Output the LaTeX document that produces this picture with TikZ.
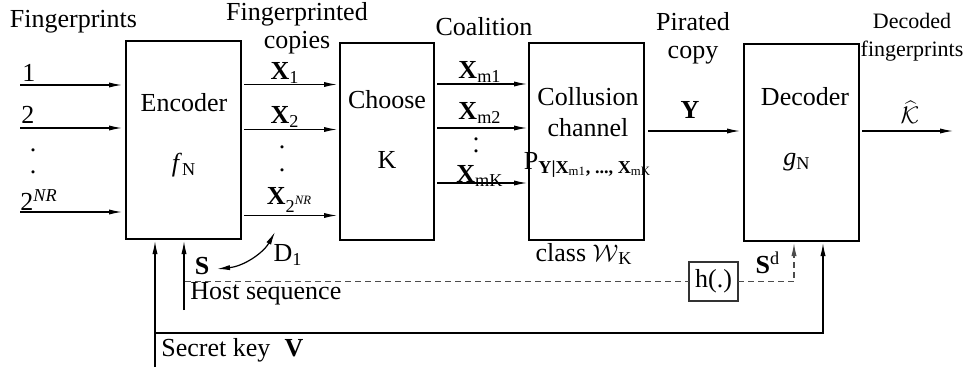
\documentclass[tikz,border=0pt]{standalone}
\usepackage{fontspec}
\setmainfont{Liberation Serif}
\usepackage{tikz}
\usetikzlibrary{arrows.meta,positioning,calc}
\tikzset{
  blk/.style={draw, rectangle, minimum width=57.5pt, minimum height=98.5pt, inner sep=0pt, outer sep=0pt, line width=0.6pt},
  lbl/.style={inner sep=0pt, font=\fontsize{13}{14}\selectfont, align=center},
  slbl/.style={inner sep=0pt, font=\fontsize{11}{14}\selectfont, align=center},
  vdot/.style={inner sep=0pt, align=center, font=\fontsize{13}{#1}\selectfont},
  arr/.style={-{Latex[length=6.5pt,width=2.6pt]}, line width=0.6pt},
  darr/.style={{Latex[length=6.5pt,width=2.6pt]}-{Latex[length=6.5pt,width=2.6pt]}, line width=0.6pt},
  gap/.style={shorten <=1.5pt, shorten >=1.5pt},
  dsh/.style={dash pattern=on 3pt off 2pt, line width=0.6pt, black!70}
}
\begin{document}
\begin{tikzpicture}[x=0.5pt,y=-0.5pt]
\useasboundingbox (0,0) rectangle (970,369);
\node[blk, minimum height=99pt] (enc) at (183.5,140) {};
\node[blk, minimum width=47pt] (cho) at (387,141.5) {};
\node[blk] (col) at (586.5,141.5) {};
\node[blk] (dec) at (801.5,142.5) {};
\node[draw, lbl, line width=0.6pt, minimum width=24.5pt, minimum height=19.5pt, outer sep=0pt, black!80] (hfn) at (713.5,281.5) {\color{black}h(.)};

\node[lbl] (fp) at (73.5,22) {Fingerprints};
\node[lbl, anchor=west] (in1) at (22,73) {1};
\node[lbl, anchor=west] (in2) at (21,115) {2};
\node[vdot=11] (ind) at (33,161) {.\\.};
\node[lbl, anchor=west] (inN) at (20,200) {2\textsuperscript{\textit{NR}}};
\node[lbl] (encl) at (184,103) {Encoder};
\node[lbl] (encf) at (184,165) {\textit{f}\textsubscript{N}};

\node[lbl] (fpc) at (297,28) {Fingerprinted\\copies};
\node[lbl] (x1) at (285,73) {\textbf{X}\textsubscript{1}};
\node[lbl] (x2) at (285,117) {\textbf{X}\textsubscript{2}};
\node[vdot=11.5] (xd) at (282,158.5) {.\\.};
\node[lbl] (xN) at (290,200) {\textbf{X}\textsubscript{2\textsuperscript{\textit{NR}}}};
\node[lbl] (chol) at (387,100) {Choose};
\node[lbl] (chok) at (387,160) {K};

\node[lbl] (coa) at (484,27) {Coalition};
\node[lbl] (xm1) at (480,72) {\textbf{X}\textsubscript{m1}};
\node[lbl] (xm2) at (480,113) {\textbf{X}\textsubscript{m2}};
\node[vdot=6] (xmd) at (476,145) {.\\.};
\node[lbl] (xmK) at (480,176) {\textbf{X}\textsubscript{mK}};
\node[lbl] (coll) at (588,112) {Collusion\\[1.5pt]channel};
\node[lbl] (colp) at (588,165) {P\textsubscript{\textbf{Y|X}\textsubscript{m1}\textbf{, ..., X}\textsubscript{mK}}};
\node[lbl] (cls) at (584,254) {class $\mathcal{W}$\textsubscript{K}};

\node[lbl] (pir) at (693,38) {Pirated\\copy};
\node[lbl] (yl) at (690,110) {\textbf{Y}};
\node[lbl] (decl) at (805,97) {Decoder};
\node[lbl] (decg) at (797,162) {\textit{g}\textsubscript{N}};
\node[slbl] (dfp) at (912,37) {Decoded\\fingerprints};
\node[lbl] (khat) at (910,112) {$\widehat{\mathcal{K}}$};

\node[lbl] (sd) at (768,263) {\textbf{S}\textsuperscript{d}};
\node[lbl] (sl) at (202,266) {\textbf{S}};
\node[lbl] (d1) at (288,255) {D\textsubscript{1}};
\node[lbl, anchor=west] (hsq) at (190,294) {Host sequence};
\node[lbl, anchor=west] (skey) at (161,350) {Secret key\hspace{0.55em}\textbf{V}};

\coordinate (a1) at (20,85);
\coordinate (a2) at (20,128);
\coordinate (aN) at (20,212);
\draw[arr, shorten >=2pt] (a1) -- (a1 -| enc.west);
\draw[arr, shorten >=2pt] (a2) -- (a2 -| enc.west);
\draw[arr, shorten >=2pt] (aN) -- (aN -| enc.west);

\coordinate (r1) at (0,84.5);
\coordinate (r2) at (0,129.5);
\coordinate (rN) at (0,215.5);
\draw[arr, gap] (enc.east |- r1) -- (cho.west |- r1);
\draw[arr, gap] (enc.east |- r2) -- (cho.west |- r2);
\draw[arr, gap] (enc.east |- rN) -- (cho.west |- rN);

\coordinate (m1) at (0,84);
\coordinate (m2) at (0,128);
\coordinate (mK) at (0,183);
\draw[arr, gap, shorten >=1pt] (cho.east |- m1) -- (col.west |- m1);
\draw[arr, gap, shorten >=1pt] (cho.east |- m2) -- (col.west |- m2);
\draw[arr, gap, shorten >=1pt] (cho.east |- mK) -- (col.west |- mK);

\coordinate (yr) at (0,131);
\coordinate (kout) at (953,131);
\draw[arr, shorten <=2pt, shorten >=2pt] (col.east |- yr) -- (dec.west |- yr);
\draw[arr, shorten <=1.5pt] (dec.east |- kout) -- (kout);

\coordinate (key) at (155,367);
\coordinate (keyc) at (823,333);
\draw[arr, shorten >=1pt] (key) -- (key |- enc.south);
\draw[arr, shorten >=1pt] (key |- keyc) -- (keyc) -- (keyc |- dec.south);
\coordinate (host) at (184,310);
\draw[arr, shorten >=1pt] (host) -- (host |- enc.south);

\coordinate (hd) at (185,281.5);
\coordinate (sdx) at (794,0);
\draw[dsh] (hd) -- (hfn.west);
\draw[dsh, arr, shorten >=1pt] (hfn.east) -| (sdx |- dec.south);

\coordinate (dA) at (217,269);
\coordinate (dB) at (275,232);
\draw[darr] (dA) .. controls (245,266) and (264,252) .. (dB);
\end{tikzpicture}
\end{document}
